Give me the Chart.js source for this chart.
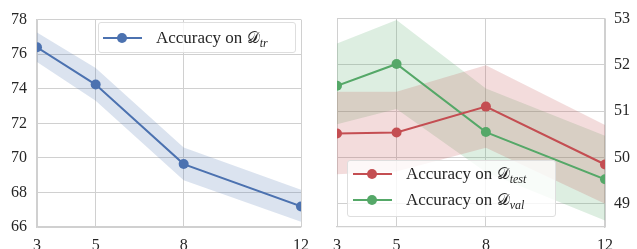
<!DOCTYPE html>
<html><head><meta charset="utf-8">
<script src="https://cdn.jsdelivr.net/npm/chart.js@4"></script>
<style>
html,body{margin:0;padding:0;background:#fff;width:637px;height:249px;overflow:hidden;}
#wrap{position:relative;width:637px;height:249px;}
canvas{position:absolute;top:0;}
#c1{left:0;} #c2{left:317px;}
.legend{position:absolute;background:rgba(255,255,255,0.8);border:1px solid #dedede;border-radius:3px;font-family:'Liberation Serif',serif;font-size:17px;color:#262626;box-sizing:border-box;}
.row{position:absolute;left:0;height:20px;width:100%;}
.ln{position:absolute;height:2px;}
.mk{position:absolute;width:10px;height:10px;border-radius:50%;}
.txt{position:absolute;white-space:nowrap;line-height:20px;top:0;}
.cal{font-family:'DejaVu Sans','DejaVu Serif',serif;font-size:16px;}
.sb{font-style:italic;font-size:12px;position:relative;top:4px;}
</style>
</head><body>
<div id="wrap">
<canvas id="c1" width="318" height="249"></canvas>
<canvas id="c2" width="320" height="249"></canvas>
<div class="legend" id="lg1" style="left:98px;top:22px;width:198px;height:31px;">
  <div class="row" style="top:5px;">
    <div class="ln" style="left:4px;width:39px;top:9px;background:#4C72B0"></div>
    <div class="mk" style="left:18px;top:5px;background:#4C72B0"></div>
    <div class="txt" style="left:57px">Accuracy on <span class="cal">𝒟</span><span class="sb">tr</span></div>
  </div>
</div>
<div class="legend" id="lg2" style="left:347px;top:160px;width:209px;height:57px;">
  <div class="row" style="top:3px;">
    <div class="ln" style="left:5px;width:39px;top:9px;background:#C44E52"></div>
    <div class="mk" style="left:19px;top:5px;background:#C44E52"></div>
    <div class="txt" style="left:58px">Accuracy on <span class="cal">𝒟</span><span class="sb">test</span></div>
  </div>
  <div class="row" style="top:29px;">
    <div class="ln" style="left:5px;width:39px;top:9px;background:#55A868"></div>
    <div class="mk" style="left:19px;top:5px;background:#55A868"></div>
    <div class="txt" style="left:58px">Accuracy on <span class="cal">𝒟</span><span class="sb">val</span></div>
  </div>
</div>
</div>
<script>
// ---- data ----
const xValues = [3, 5, 8, 12];
const leftYTicks = [66, 68, 70, 72, 74, 76, 78];
const rightYTicks = [49, 50, 51, 52, 53];

const trainAcc   = [76.40, 74.24, 69.64, 67.19];
const trainUpper = [77.25, 75.20, 70.60, 68.15];
const trainLower = [75.55, 73.30, 68.70, 66.30];

const testAcc    = [50.52, 50.54, 51.10, 49.85];
const testUpper  = [51.42, 51.42, 51.99, 50.70];
const testLower  = [49.64, 49.70, 50.21, 49.00];

const valAcc     = [51.55, 52.02, 50.55, 49.53];
const valUpper   = [52.46, 52.97, 51.49, 50.47];
const valLower   = [50.72, 51.05, 49.68, 48.64];

const BLUE = '#4C72B0', RED = '#C44E52', GREEN = '#55A868';
const GRID = '#d0d0d0';
const TICK_FONT = {family: "'Liberation Serif', serif", size: 16};
const TICK_COLOR = '#262626';

function pts(arr){ return xValues.map((x,i)=>({x:x, y:arr[i]})); }
function band(lower, upper, color){
  return [
    {data: pts(lower), borderWidth:0, pointRadius:0, fill:false, order:5},
    {data: pts(upper), borderWidth:0, pointRadius:0, fill:'-1', backgroundColor: color, order:5}
  ];
}
function line(arr, color){
  return {data: pts(arr), borderColor: color, backgroundColor: color, pointBackgroundColor: color,
          pointBorderColor: color, pointRadius: 5, pointBorderWidth: 0, borderWidth: 2, fill:false,
          clip: 0, order: 1};
}
function xScale(){
  return {type:'linear', min:3, max:12,
    afterBuildTicks: s => { s.ticks = xValues.map(v=>({value:v})); },
    afterFit: s => { s.height = 22; },
    grid:{color:GRID, lineWidth:1, drawTicks:false},
    border:{display:true, color:GRID, width:1.25},
    ticks:{font:TICK_FONT, color:TICK_COLOR, padding:9, maxRotation:0, autoSkip:false}
  };
}
const common = {
  responsive:false, animation:false, devicePixelRatio:1,
  plugins:{legend:{display:false}, tooltip:{enabled:false}, filler:{drawTime:'beforeDatasetsDraw'}},
  elements:{line:{tension:0}}
};

new Chart(document.getElementById('c1'), {
  type:'line',
  data:{datasets:[...band(trainLower, trainUpper, 'rgba(76,114,176,0.2)'), line(trainAcc, BLUE)]},
  options:Object.assign({}, common, {
    layout:{padding:{top:15, right:13, left:0, bottom:0}},
    scales:{
      x: xScale(),
      y: {type:'linear', min:66, max:78,
        afterBuildTicks: s => { s.ticks = leftYTicks.map(v=>({value:v})); },
        afterFit: s => { s.width = 37; },
        grid:{color:GRID, lineWidth:1, drawTicks:false},
        border:{display:true, color:GRID, width:1.25},
        ticks:{font:TICK_FONT, color:TICK_COLOR, padding:10}
      }
    }
  })
});

new Chart(document.getElementById('c2'), {
  type:'line',
  data:{datasets:[...band(testLower, testUpper, 'rgba(196,78,82,0.2)'),
                  ...band(valLower, valUpper, 'rgba(85,168,104,0.2)'),
                  line(testAcc, RED), line(valAcc, GREEN)]},
  options:Object.assign({}, common, {
    layout:{padding:{top:15, right:0, left:20, bottom:0}},
    scales:{
      x: xScale(),
      y: {type:'linear', position:'right', min:48.5, max:53,
        afterBuildTicks: s => { s.ticks = rightYTicks.map(v=>({value:v})); },
        afterFit: s => { s.width = 32; },
        grid:{color:GRID, lineWidth:1, drawTicks:false},
        border:{display:true, color:GRID, width:1.25},
        ticks:{font:TICK_FONT, color:TICK_COLOR, padding:9}
      }
    }
  })
});
</script>
</body></html>
